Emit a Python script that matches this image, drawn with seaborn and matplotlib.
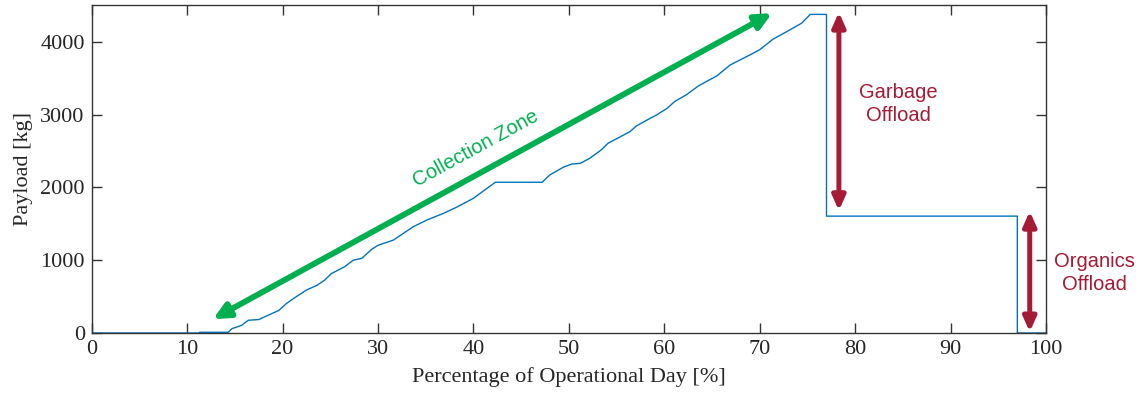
import matplotlib
matplotlib.use("Agg")
import matplotlib.pyplot as plt
import seaborn as sns
import pandas as pd

# ---- data ----
day_pct = [0, 11.3, 11.3, 14.3, 14.7, 15.7, 16.4, 17.5, 18.5, 19.6, 20.4, 21.5, 22.5,
           23.6, 24.4, 25.1, 26.5, 27.4, 28.3, 29.3, 30.0, 31.6, 33.7, 35.1, 36.8,
           38.2, 40.0, 41.4, 42.3, 47.2, 48.0, 49.4, 50.3, 51.2, 52.2, 53.4, 54.1,
           55.4, 56.4, 57.1, 58.2, 59.2, 60.3, 61.1, 62.3, 63.6, 65.5, 66.9, 69.0,
           70.0, 71.4, 73.2, 74.4, 75.3, 77.0, 77.0, 97.0, 97.0, 100]
payload_kg = [0, 0, 10, 10, 60, 105, 175, 185, 245, 310, 405, 505, 590,
              655, 725, 815, 910, 1000, 1025, 1145, 1205, 1275, 1460, 1550, 1640,
              1725, 1850, 1985, 2070, 2070, 2170, 2275, 2320, 2330, 2400, 2515, 2605,
              2695, 2765, 2845, 2925, 2995, 3085, 3180, 3270, 3395, 3530, 3680, 3820,
              3890, 4035, 4165, 4255, 4375, 4375, 1605, 1605, 0, 0]

x_ticks = [0, 10, 20, 30, 40, 50, 60, 70, 80, 90, 100]
y_ticks = [0, 1000, 2000, 3000, 4000]

collection_arrow = [(12.7, 190), (71.3, 4393)]
garbage_arrow = [(78.3, 4405), (78.3, 1680)]
organics_arrow = [(98.3, 1672), (98.3, 15)]

df = pd.DataFrame({"day": day_pct, "payload": payload_kg})

sns.set_style("ticks")
plt.rcParams["font.family"] = ["Liberation Serif", "DejaVu Serif"]

fig = plt.figure(figsize=(11.44, 4.04), dpi=100)
ax = fig.add_axes([0.0802, 0.1757, 0.9143 - 0.0802, 0.9869 - 0.1757])

sns.lineplot(data=df, x="day", y="payload", sort=False, estimator=None,
             color="#0072BD", linewidth=1.0, ax=ax)

ax.set_xlim(0, 100)
ax.set_ylim(0, 4500)
ax.set_xticks(x_ticks)
ax.set_yticks(y_ticks)
ax.set_xlabel("Percentage of Operational Day [%]", fontsize=16, color="#262626", labelpad=6)
ax.set_ylabel("Payload [kg]", fontsize=16, color="#262626", labelpad=5)
ax.tick_params(axis="both", direction="in", length=7, width=1.0, color="#333333",
               labelsize=16, labelcolor="#262626", top=True, right=True, pad=5)
for s in ax.spines.values():
    s.set_visible(True)
    s.set_color("#333333")
    s.set_linewidth(1.0)

green = "#00B050"
red = "#A51A35"

(x0, y0), (x1, y1) = collection_arrow
ax.annotate("", xy=(x1, y1), xytext=(x0, y0),
            arrowprops=dict(arrowstyle="<|-|>,head_length=9.5,head_width=4.5",
                            mutation_scale=1, lw=4.2, color=green,
                            shrinkA=0, shrinkB=0))
ax.text(40.2, 2540, "Collection Zone", rotation=28.7, rotation_mode="anchor",
        ha="center", va="center", color=green, fontsize=14.5,
        family=["Liberation Sans", "DejaVu Sans"])

for (xa, ya), (xb, yb) in [garbage_arrow, organics_arrow]:
    ax.annotate("", xy=(xa, ya), xytext=(xb, yb),
                arrowprops=dict(arrowstyle="<|-|>,head_length=8.5,head_width=3.8",
                                mutation_scale=1, lw=3.6, color=red,
                                shrinkA=0, shrinkB=0), annotation_clip=False)

ax.text(84.5, 3140, "Garbage\nOffload", ha="center", va="center", color=red,
        fontsize=14.5, family=["Liberation Sans", "DejaVu Sans"], linespacing=1.25)
ax.text(105.1, 825, "Organics\nOffload", ha="center", va="center", color=red,
        fontsize=14.5, family=["Liberation Sans", "DejaVu Sans"], linespacing=1.25,
        clip_on=False)

fig.savefig("out.png", dpi=100)
